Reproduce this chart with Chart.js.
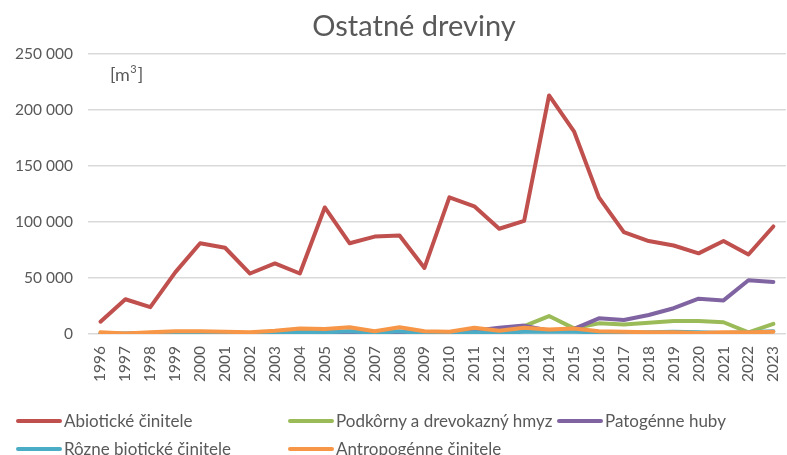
<!DOCTYPE html>
<html>
<head>
<meta charset="utf-8">
<script src="https://cdn.jsdelivr.net/npm/chart.js@4.4.0/dist/chart.umd.min.js"></script>
<style>
  html, body { margin: 0; padding: 0; background: #fff; overflow: hidden; }
  #wrap { position: relative; width: 787px; height: 455px; overflow: hidden; }
  #legend { position: absolute; left: 0; top: 410px; width: 787px; font-family: Lato, "Open Sans", sans-serif; font-size: 17px; color: #595959; }
  .item { position: absolute; display: flex; align-items: center; white-space: nowrap; }
  .swatch { width: 46px; height: 4px; border-radius: 2px; margin-right: 2px; }
</style>
</head>
<body>
<div id="wrap">
  <canvas id="chart" width="796" height="455"></canvas>
  <div id="legend"></div>
</div>
<script>
const years = ["1996","1997","1998","1999","2000","2001","2002","2003","2004","2005","2006","2007","2008","2009",
  "2010","2011","2012","2013","2014","2015","2016","2017","2018","2019","2020","2021","2022","2023"];

const seriesNames = ["Abiotické činitele", "Podkôrny a drevokazný hmyz", "Patogénne huby",
  "Rôzne biotické činitele", "Antropogénne činitele"];

const abioticke = [11000, 31000, 24000, 55000, 81000, 77000, 54000, 63000, 54000, 113000, 81000, 87000, 88000, 59000,
  122000, 114000, 94000, 101000, 213000, 181000, 122000, 91000, 83000, 79000, 72000, 83000, 71000, 96000];
const podkorny = [500, 300, 500, 800, 800, 800, 800, 1000, 1500, 1500, 1500, 1500, 1500, 1000,
  1000, 2500, 5000, 7000, 16000, 5000, 9500, 8500, 10000, 11500, 11500, 10500, 1500, 9000];
const patogenne = [300, 300, 800, 1000, 1500, 1000, 1000, 1000, 1500, 1500, 2000, 1500, 1500, 1000,
  1000, 3000, 5500, 7500, 3000, 4500, 14000, 12500, 17000, 23000, 31500, 30000, 48000, 46500];
const rozne = [0, 200, 300, 500, 500, 500, 500, 1000, 2000, 1500, 2500, 1000, 2500, 500,
  500, 1500, 1000, 2000, 2000, 2000, 1500, 1000, 1500, 2000, 1500, 1000, 1500, 2500];
const antropogenne = [1500, 500, 1500, 2500, 2500, 2000, 1500, 3000, 5000, 4500, 6000, 2500, 6000, 2500,
  2000, 5500, 3000, 5500, 4000, 5000, 2500, 2000, 1500, 1500, 1000, 1500, 1500, 2000];

const colors = ["#c0504d", "#9bbb59", "#8064a2", "#4bacc6", "#f79646"];
const allSeries = [abioticke, podkorny, patogenne, rozne, antropogenne];

const textColor = "#595959";
const fontFamily = "Lato, 'Open Sans', sans-serif";

function formatNumber(v) {
  return String(v).replace(/\B(?=(\d{3})+(?!\d))/g, " ");
}

// titulok a jednotka
const extraText = {
  id: "extraText",
  afterDraw(chart) {
    const ctx = chart.ctx;
    const area = chart.chartArea;
    ctx.save();
    ctx.fillStyle = textColor;
    ctx.textAlign = "center";
    ctx.textBaseline = "middle";
    ctx.font = "29px " + fontFamily;
    ctx.fillText("Ostatné dreviny", 414, 27);
    ctx.textAlign = "left";
    let x = area.left + 22;
    ctx.font = "18px " + fontFamily;
    ctx.fillText("[m", x, area.top + 21);
    x += ctx.measureText("[m").width + 0.5;
    ctx.font = "11px " + fontFamily;
    ctx.fillText("3", x, area.top + 15);
    x += ctx.measureText("3").width + 1;
    ctx.font = "18px " + fontFamily;
    ctx.fillText("]", x, area.top + 21);
    ctx.restore();
  }
};

const ctx = document.getElementById("chart").getContext("2d");
const chart = new Chart(ctx, {
  type: "line",
  data: {
    labels: years,
    datasets: allSeries.map((data, i) => ({
      label: seriesNames[i],
      data: data,
      borderColor: colors[i],
      backgroundColor: colors[i],
      borderWidth: 4,
      pointRadius: 0,
      tension: 0,
      borderCapStyle: "round",
      borderJoinStyle: "round",
      order: allSeries.length - i
    }))
  },
  options: {
    responsive: false,
    animation: false,
    layout: { padding: { top: 54, right: 2, bottom: 65, left: 0 } },
    plugins: {
      legend: { display: false },
      title: { display: false },
      tooltip: { enabled: false }
    },
    scales: {
      x: {
        offset: true,
        grid: { display: false },
        border: { display: false },
        ticks: {
          color: textColor,
          font: { family: fontFamily, size: 15.5 },
          minRotation: 90,
          maxRotation: 90,
          autoSkip: false,
          padding: 4
        },
        afterFit(scale) { scale.height = 56; }
      },
      y: {
        min: 0,
        max: 250000,
        ticks: {
          stepSize: 50000,
          color: textColor,
          font: { family: fontFamily, size: 15.5 },
          padding: 15,
          callback: (v) => formatNumber(v)
        },
        grid: { color: "#d9d9d9", lineWidth: 1.5, drawTicks: false },
        border: { display: false },
        afterFit(scale) { scale.width = 88; }
      }
    }
  },
  plugins: [extraText]
});

// legenda v mriežke
const legend = document.getElementById("legend");
const positions = [[16, 0], [288, 0], [557, 0], [16, 28], [288, 28]];
seriesNames.forEach((name, i) => {
  const item = document.createElement("div");
  item.className = "item";
  item.style.left = positions[i][0] + "px";
  item.style.top = positions[i][1] + "px";
  const sw = document.createElement("span");
  sw.className = "swatch";
  sw.style.background = colors[i];
  const label = document.createElement("span");
  label.textContent = name;
  item.appendChild(sw);
  item.appendChild(label);
  legend.appendChild(item);
});
</script>
</body>
</html>
